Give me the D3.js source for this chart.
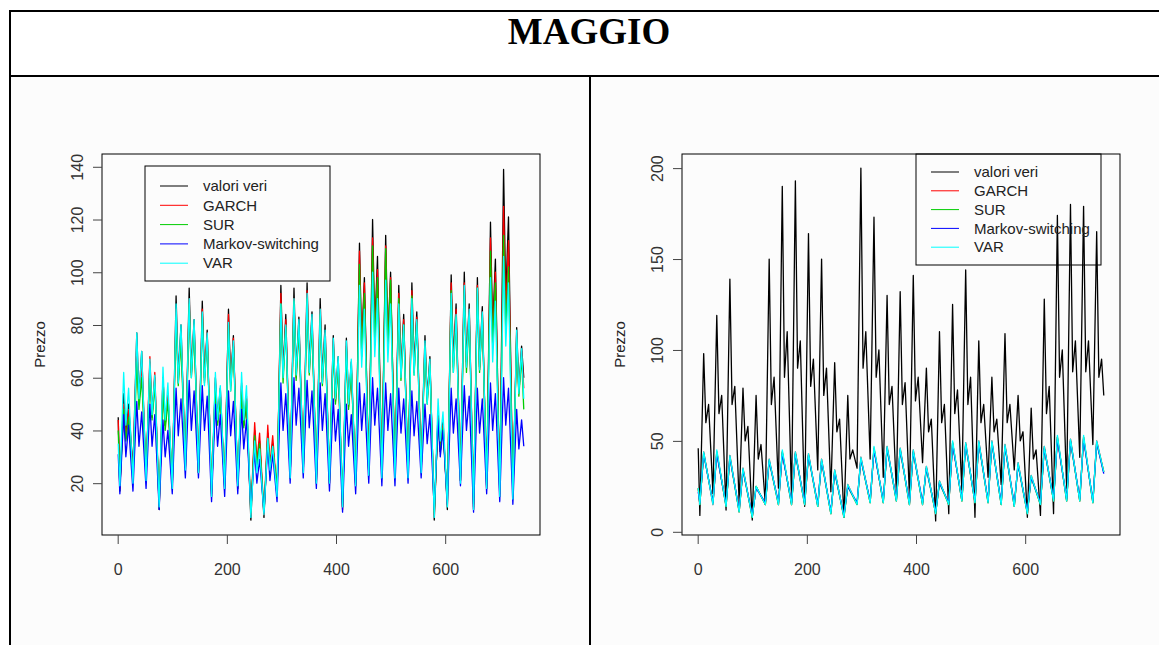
<!DOCTYPE html>
<html lang="it">
<head>
<meta charset="UTF-8">
<style>
    html, body { margin: 0; padding: 0; background: #fff; }
    svg { display: block; font-family: 'Liberation Sans', Arial, sans-serif; }
    .frame { stroke: #000; stroke-width: 2; }
    .box { fill: none; stroke: #000; stroke-width: 1; }
    .axis text { font-size: 16px; fill: #333; font-family: 'Liberation Sans', Arial, sans-serif; }
    .axis line { stroke: #444; }
    .series { fill: none; stroke-width: 1.3; stroke-linejoin: round; }
    .legend text { font-size: 15px; fill: #222; }
</style>
</head>
<body>
<svg id="chart" width="1159" height="645"></svg>

<script src="https://d3js.org/d3.v7.min.js"></script>
<script>
    // ---- data: per day of May (hourly index 1..744)
    //      night low, midday peak, afternoon dip, evening peak ----
    const seriesNames  = ['valori veri', 'GARCH', 'SUR', 'Markov-switching', 'VAR'];
    const seriesColors = ['#000000', '#ff0000', '#00cd00', '#0000ff', '#00ffff'];
    const xTicks       = [0, 200, 400, 600];
    const yTicksLeft   = [20, 40, 60, 80, 100, 120, 140];
    const yTicksRight  = [0, 50, 100, 150, 200];
    const hourRange    = [1, 744];
    const leftRange    = [5.7, 139.5];
    const rightRange   = [6, 200];

    // left panel
    const leftTrueLow   = [17,25,22,10,18,26,24,15,18,18,6,7,15,22,25,20,20,11,19,23,22,22,22,25,6,10,21,10,18,15,14];
    const leftTruePeak  = [54,77,66,60,91,94,89,60,86,57,40,39,95,94,96,90,76,75,111,120,114,95,96,76,47,99,100,98,119,139,79];
    const leftTrueDip   = [38,52,45,42,60,62,60,44,58,42,26,25,62,62,64,60,52,50,72,78,74,62,64,52,32,66,66,64,78,90,55];
    const leftTrueEve   = [50,70,60,54,80,82,78,56,76,52,36,35,84,83,85,80,68,66,98,106,100,84,85,68,44,88,88,87,105,121,72];
    const leftGarchLow  = [18,24,22,11,19,26,24,16,19,19,8,8,16,22,25,21,20,10,19,23,22,22,22,25,8,12,21,11,18,16,15];
    const leftGarchPeak = [50,72,68,60,86,90,86,58,84,58,43,42,92,90,93,86,74,72,108,113,110,92,93,73,45,96,96,95,113,125,77];
    const leftGarchDip  = [37,50,46,42,58,61,59,43,57,42,28,27,60,60,62,58,51,49,70,75,72,60,62,51,32,64,64,63,75,84,54];
    const leftGarchEve  = [48,66,62,54,77,80,77,54,75,53,39,38,82,80,83,77,66,64,96,101,98,82,83,66,42,86,86,85,100,112,70];
    const leftSurLow    = [19,23,23,12,20,25,24,17,20,20,9,9,18,22,24,21,21,11,20,23,22,22,23,24,9,13,21,12,19,17,16];
    const leftSurPeak   = [48,66,63,56,83,88,84,56,80,55,38,37,88,89,90,84,72,71,103,110,109,90,91,72,44,93,93,94,108,114,75];
    const leftSurDip    = [36,48,44,40,57,60,58,42,55,41,27,26,58,59,61,57,50,48,68,73,71,59,61,50,32,62,62,62,72,78,53];
    const leftSurEve    = [45,60,58,51,74,78,75,52,72,51,35,34,79,79,80,75,65,63,92,98,97,80,81,65,41,83,83,84,96,102,68];
    const leftMsLow     = [16,17,18,10,16,22,22,13,15,16,10,9,13,20,22,18,17,9,16,20,19,19,20,22,10,12,19,9,16,13,12];
    const leftMsPeak    = [46,51,50,44,56,59,57,50,55,48,32,34,58,60,59,58,52,50,58,60,58,56,55,50,44,56,57,56,58,60,48];
    const leftMsDip     = [30,34,34,30,38,40,40,34,38,33,20,21,40,42,41,40,36,34,40,42,40,39,38,35,30,39,40,39,40,42,33];
    const leftMsEve     = [42,47,46,40,52,55,53,46,51,44,29,31,54,56,55,54,48,46,54,56,54,52,51,46,40,52,53,52,54,56,44];
    const leftVarLow    = [19,20,21,11,18,25,24,15,18,19,7,8,15,22,24,20,20,11,19,23,22,22,22,24,7,11,20,10,18,15,14];
    const leftVarPeak   = [62,77,67,64,88,90,85,62,81,62,36,37,88,90,92,86,75,74,95,100,97,88,90,74,52,92,95,94,98,106,78];
    const leftVarDip    = [42,52,46,44,58,60,57,44,55,44,24,25,60,61,62,58,52,50,64,68,66,60,61,50,36,62,64,63,66,72,54];
    const leftVarEve    = [56,70,61,58,80,82,77,57,74,57,33,34,80,82,84,78,68,67,86,90,88,80,82,67,47,84,86,85,89,96,71];
    const leftStart     = [45, 44, 40, 31, 35];
    const leftEnd       = [60, 56, 48, 34, 52];

    // right panel (forecasts only have low and peak)
    const rightTrueLow   = [9,21,12,16,6.5,15,24,19,14,34,22,8,35,40,30,22,19,38,6,10,23,8,30,26,34,8,9,10,24,41,48];
    const rightTruePeak  = [98,119,139,79,75,150,190,193,164,150,93,75,200,173,130,132,141,90,110,125,144,105,85,109,75,68,128,174,180,179,165];
    const rightTrueDip   = [60,65,70,50,40,70,85,90,80,75,55,40,90,85,70,70,72,55,60,65,70,60,55,60,50,40,65,85,88,88,85];
    const rightTrueEve   = [70,75,80,58,48,85,110,105,95,90,62,45,110,100,80,82,85,62,70,78,85,70,62,70,55,45,80,100,105,105,95];
    const rightGarchLow  = [15,15,14,11,8,15,15,15,15,14,10,8,15,16,16,17,15,15,10,15,17,16,16,15,14,10,15,17,17,17,16];
    const rightGarchPeak = [44,44,42,35,25,40,44,44,43,40,34,26,41,46,47,46,45,36,28,49,49,50,50,48,38,31,47,52,51,52,50];
    const rightSurLow    = [15,16,14,11,8,15,15,15,15,14,10,8,15,16,16,17,15,15,10,15,17,16,16,15,14,10,15,17,17,17,16];
    const rightSurPeak   = [43,44,41,34,25,39,44,43,42,39,33,25,40,46,46,45,44,35,27,49,48,49,49,47,37,30,46,52,50,52,49];
    const rightMsLow     = [16,16,15,12,9,16,16,16,16,15,11,9,16,17,17,18,16,16,11,16,18,17,17,16,15,11,16,18,18,18,17];
    const rightMsPeak    = [43,43,41,34,24,39,43,43,42,39,33,25,40,45,46,45,44,35,27,48,48,49,49,47,37,30,46,51,50,51,49];
    const rightVarLow    = [15,15,14,11,8,15,15,15,15,14,10,8,15,16,16,17,15,15,10,15,17,16,16,15,14,10,15,17,17,17,16];
    const rightVarPeak   = [44,45,42,35,25,40,45,44,43,40,34,26,41,47,47,46,45,36,28,50,49,50,50,48,38,31,47,53,51,53,50];
    const rightStart     = [46, 24, 24, 22, 24];
    const rightEnd       = [75, 33, 33, 32, 33];

    ///////////////////////////////////////////////////////
    //// LAYOUT
    ///////////////////////////////////////////////////////
    const vis = {
        svg: d3.select('#chart'),
        width: 1159,
        height: 645,
        hours: {low: 4, peak: 11, dip: 15, eve: 20},
        panels: [
            {   box: {x: 102, y: 154, w: 438, h: 381},
                range: leftRange, yTicks: yTicksLeft,
                lows:  [leftTrueLow, leftGarchLow, leftSurLow, leftMsLow, leftVarLow],
                peaks: [leftTruePeak, leftGarchPeak, leftSurPeak, leftMsPeak, leftVarPeak],
                dips:  [leftTrueDip, leftGarchDip, leftSurDip, leftMsDip, leftVarDip],
                eves:  [leftTrueEve, leftGarchEve, leftSurEve, leftMsEve, leftVarEve],
                start: leftStart, end: leftEnd,
                legend: {x: 145, y: 166, w: 185, h: 115, first: 20, gap: 19.3}
            },
            {   box: {x: 682, y: 154, w: 438, h: 381},
                range: rightRange, yTicks: yTicksRight,
                lows:  [rightTrueLow, rightGarchLow, rightSurLow, rightMsLow, rightVarLow],
                peaks: [rightTruePeak, rightGarchPeak, rightSurPeak, rightMsPeak, rightVarPeak],
                dips:  [rightTrueDip, null, null, null, null],
                eves:  [rightTrueEve, null, null, null, null],
                start: rightStart, end: rightEnd,
                legend: {x: 916, y: 154, w: 185, h: 111, first: 18, gap: 18.8}
            }
        ]
    };

    // R style 4% padding of the data range
    function padded(r){
        const p = (r[1] - r[0]) * 0.04;
        return [r[0] - p, r[1] + p];
    }

    function seriesPoints(panel, i){
        const h = vis.hours;
        const pts = [[hourRange[0], panel.start[i]]];
        panel.lows[i].forEach((lo, d) => {
            pts.push([d * 24 + h.low, lo]);
            pts.push([d * 24 + h.peak, panel.peaks[i][d]]);
            if (panel.dips[i]) pts.push([d * 24 + h.dip, panel.dips[i][d]]);
            if (panel.eves[i]) pts.push([d * 24 + h.eve, panel.eves[i][d]]);
        });
        pts.push([hourRange[1], panel.end[i]]);
        return pts;
    }

    function drawFrame(){
        const svg = vis.svg;
        svg.append('rect').attr('x', 10).attr('y', 76).attr('width', vis.width - 10).attr('height', vis.height - 76)
            .attr('fill', '#fcfcfc');
        svg.append('line').attr('class', 'frame').attr('x1', 9).attr('x2', vis.width).attr('y1', 11).attr('y2', 11);
        svg.append('line').attr('class', 'frame').attr('x1', 9).attr('x2', vis.width).attr('y1', 76).attr('y2', 76);
        svg.append('line').attr('class', 'frame').attr('x1', 10).attr('x2', 10).attr('y1', 10).attr('y2', vis.height);
        svg.append('line').attr('class', 'frame').attr('x1', 590).attr('x2', 590).attr('y1', 76).attr('y2', vis.height);
        svg.append('text')
            .attr('x', 589).attr('y', 44)
            .attr('text-anchor', 'middle')
            .style('font-family', "'Liberation Serif', 'Times New Roman', serif")
            .style('font-weight', 'bold')
            .style('font-size', '37px')
            .text('MAGGIO');
    }

    function drawPanel(panel){
        const b = panel.box;
        const x = d3.scaleLinear().domain(padded(hourRange)).range([b.x, b.x + b.w]);
        const y = d3.scaleLinear().domain(padded(panel.range)).range([b.y + b.h, b.y]);
        const g = vis.svg.append('g');

        // series, drawn in order so VAR ends up on top
        const line = d3.line().x(d => x(d[0])).y(d => y(d[1]));
        seriesNames.forEach((name, i) => {
            g.append('path')
                .attr('class', 'series')
                .attr('stroke', seriesColors[i])
                .attr('d', line(seriesPoints(panel, i)));
        });

        g.append('rect').attr('class', 'box')
            .attr('x', b.x).attr('y', b.y).attr('width', b.w).attr('height', b.h);

        // axes
        const xAxis = g.append('g').attr('class', 'axis')
            .attr('transform', `translate(0,${b.y + b.h})`)
            .call(d3.axisBottom(x).tickValues(xTicks).tickSize(9).tickPadding(20));
        xAxis.select('.domain').remove();

        const yAxis = g.append('g').attr('class', 'axis')
            .attr('transform', `translate(${b.x},0)`)
            .call(d3.axisLeft(y).tickValues(panel.yTicks).tickSize(9));
        yAxis.select('.domain').remove();
        yAxis.selectAll('text')
            .attr('x', null).attr('dy', null)
            .attr('text-anchor', 'middle')
            .attr('transform', 'translate(-19,0) rotate(-90)');

        g.append('text')
            .attr('transform', `translate(${b.x - 57},${b.y + b.h / 2}) rotate(-90)`)
            .attr('text-anchor', 'middle')
            .style('font-size', '15px').style('fill', '#222')
            .text('Prezzo');

        // legend (transparent, lines show through like in R)
        const L = panel.legend;
        const lg = g.append('g').attr('class', 'legend');
        lg.append('rect').attr('x', L.x).attr('y', L.y).attr('width', L.w).attr('height', L.h)
            .attr('fill', 'none').attr('stroke', '#000').attr('stroke-width', 1);
        seriesNames.forEach((name, i) => {
            const ry = L.y + L.first + i * L.gap;
            lg.append('line').attr('x1', L.x + 15).attr('x2', L.x + 43).attr('y1', ry).attr('y2', ry)
                .attr('stroke', seriesColors[i]).attr('stroke-width', 1);
            lg.append('text').attr('x', L.x + 58).attr('y', ry).attr('dy', '0.35em').text(name);
        });
    }

    drawFrame();
    vis.panels.forEach(drawPanel);
</script>
</body>
</html>
